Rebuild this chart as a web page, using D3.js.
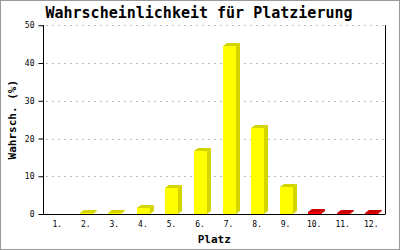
<!DOCTYPE html>
<html><head><meta charset="utf-8">
<script src="https://cdn.jsdelivr.net/npm/d3@7"></script>
<style>body{margin:0;background:#fff}svg{display:block}</style>
</head><body>
<script>
const categories = ["1.","2.","3.","4.","5.","6.","7.","8.","9.","10.","11.","12."];
const values = [0, 0.15, 0.15, 1.7, 6.9, 16.7, 44.5, 22.9, 7.1, 0.5, 0.3, 0.3];
const barColors = ["yellow","yellow","yellow","yellow","yellow","yellow","yellow","yellow","yellow","red","red","red"];
const yTicks = [0,10,20,30,40,50];
const title = "Wahrscheinlichkeit für Platzierung";
const xTitle = "Platz";
const yTitle = "Wahrsch. (%)";

const W = 400, H = 250;
const m = {left: 43, right: 385.5, top: 25.3, bottom: 214};
const svg = d3.select("body").append("svg").attr("width", W).attr("height", H);
svg.append("rect").attr("x",0.5).attr("y",0.5).attr("width",W-1).attr("height",H-1)
  .attr("fill","#fff").attr("stroke","#999");

const x = d3.scaleBand().domain(categories).range([m.left, m.right]);
const y = d3.scaleLinear().domain([0,50]).range([m.bottom, m.top]);
const mono = "'DejaVu Sans Mono', monospace";

// grid
svg.append("g").selectAll("line").data(yTicks.filter(d=>d>0)).join("line")
  .attr("x1", m.left+3).attr("x2", m.right).attr("y1", d=>Math.round(y(d))+0.5).attr("y2", d=>Math.round(y(d))+0.5)
  .attr("stroke","#bbb").attr("stroke-dasharray","2,4");

// right border line
svg.append("line").attr("x1", m.right).attr("x2", m.right).attr("y1", Math.round(m.top)).attr("y2", m.bottom)
  .attr("stroke","#000");

// bars
const colorMap = {yellow:{front:"#ffff00", side:"#d4d400"}, red:{front:"#ff0000", side:"#c80000"}};
const bw = 13, dx = 4, dy = 3;
const bars = svg.append("g");
values.forEach((v,i)=>{
  if (v <= 0) return;
  const c = x(categories[i]) + x.bandwidth()/2;
  const x0 = Math.round(c - 6), x1 = x0 + bw;
  const y0 = m.bottom, yv = Math.round(y(v));
  const col = colorMap[barColors[i]];
  bars.append("polygon").attr("points", [[x1,yv],[x1+dx,yv-dy],[x1+dx,y0-dy],[x1,y0]].join(" ")).attr("fill", col.side);
  bars.append("polygon").attr("points", [[x0,yv],[x0+dx,yv-dy],[x1+dx,yv-dy],[x1,yv]].join(" ")).attr("fill", col.side);
  bars.append("rect").attr("x", x0).attr("y", yv).attr("width", bw).attr("height", y0-yv).attr("fill", col.front);
});

// y axis
const yAxis = d3.axisLeft(y).tickValues(yTicks).tickSize(5).tickPadding(4);
const gy = svg.append("g").attr("transform", `translate(${m.left+0.5},0)`).call(yAxis);
gy.select(".domain").attr("d", `M0,${Math.round(m.top)}V${m.bottom}`).attr("stroke","#000");
gy.selectAll("text").attr("font-family", mono).attr("font-size", 8).attr("fill","#000");
gy.selectAll(".tick line").attr("stroke","#000");

// x axis
const xAxis = d3.axisBottom(x).tickSize(0).tickPadding(7);
const gx = svg.append("g").attr("transform", `translate(0,${m.bottom+0.5})`).call(xAxis);
gx.select(".domain").attr("d", `M${m.left},0H${m.right}`).attr("stroke","#000");
gx.selectAll("text").attr("font-family", mono).attr("font-size", 8).attr("fill","#000");

// titles
svg.append("text").attr("x", 199).attr("y", 18).attr("text-anchor","middle")
  .attr("font-family", mono).attr("font-weight","bold").attr("font-size", 15).text(title);
svg.append("text").attr("x", (m.left+m.right)/2).attr("y", 243).attr("text-anchor","middle")
  .attr("font-family", mono).attr("font-weight","bold").attr("font-size", 11).text(xTitle);
svg.append("text").attr("transform", `translate(16,${(m.top+m.bottom)/2}) rotate(-90)`).attr("text-anchor","middle")
  .attr("font-family", mono).attr("font-weight","bold").attr("font-size", 11).text(yTitle);
</script>
</body></html>
